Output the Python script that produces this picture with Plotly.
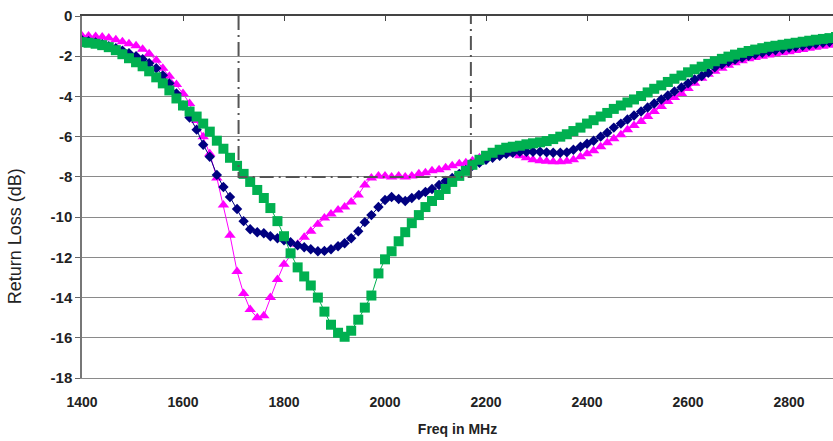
import plotly.graph_objects as go

freq_mhz = [1400, 1413, 1427, 1440, 1453, 1467, 1480, 1493, 1507, 1520,
            1533, 1547, 1560, 1573, 1587, 1600, 1613, 1627, 1640, 1653,
            1667, 1680, 1693, 1707, 1720, 1733, 1747, 1760, 1773, 1787,
            1800, 1813, 1827, 1840, 1853, 1867, 1880, 1893, 1907, 1920,
            1933, 1947, 1960, 1973, 1987, 2000, 2013, 2027, 2040, 2053,
            2067, 2080, 2093, 2107, 2120, 2133, 2147, 2160, 2173, 2187,
            2200, 2213, 2227, 2240, 2253, 2267, 2280, 2293, 2307, 2320,
            2333, 2347, 2360, 2373, 2387, 2400, 2413, 2427, 2440, 2453,
            2467, 2480, 2493, 2507, 2520, 2533, 2547, 2560, 2573, 2587,
            2600, 2613, 2627, 2640, 2653, 2667, 2680, 2693, 2707, 2720,
            2733, 2747, 2760, 2773, 2787, 2800, 2813, 2827, 2840, 2853,
            2867, 2880, 2893]

magenta_db = [-1.0, -1.0, -1.02, -1.05, -1.1, -1.18, -1.28, -1.38, -1.48, -1.65,
              -1.88, -2.2, -2.6, -3.0, -3.4, -3.85, -4.35, -5.2, -6.0, -6.85,
              -8.05, -9.4, -10.9, -12.7, -13.8, -14.6, -15.0, -14.9, -14.0, -13.1,
              -12.35, -11.9, -11.35, -11.0, -10.7, -10.35, -10.05, -9.85, -9.65, -9.5,
              -9.25, -8.9, -8.4, -8.05, -7.95, -7.95, -8.0, -7.95, -8.0, -7.95,
              -7.85, -7.8, -7.7, -7.65, -7.55, -7.45, -7.35, -7.3, -7.2, -7.05,
              -6.95, -6.9, -6.85, -6.85, -6.85, -6.95, -7.05, -7.15, -7.2, -7.22,
              -7.25, -7.25, -7.22, -7.15, -7.0, -6.85, -6.7, -6.5, -6.3, -6.1,
              -5.9, -5.65, -5.45, -5.25, -5.0, -4.75, -4.5, -4.25, -4.05, -3.85,
              -3.6, -3.35, -3.1, -2.9, -2.75, -2.6, -2.45, -2.33, -2.22, -2.13,
              -2.06, -2.0, -1.94, -1.88, -1.83, -1.78, -1.72, -1.67, -1.6, -1.55,
              -1.5, -1.45, -1.4]

navy_db = [-1.2, -1.25, -1.32, -1.4, -1.5, -1.6, -1.72, -1.85, -2.0, -2.15,
           -2.35, -2.6, -2.95, -3.35, -3.85, -4.45, -5.05, -5.65, -6.4, -7.0,
           -7.9, -8.5, -9.0, -9.6, -10.2, -10.6, -10.75, -10.8, -10.95, -11.05,
           -11.15, -11.25, -11.4, -11.5, -11.6, -11.7, -11.68, -11.6, -11.45, -11.3,
           -11.05, -10.7, -10.25, -9.9, -9.5, -9.15, -9.0, -9.1, -9.2, -9.05,
           -8.9, -8.75, -8.6, -8.4, -8.2, -8.05, -7.85, -7.65, -7.45, -7.3,
           -7.15, -7.05, -6.95, -6.85, -6.8, -6.75, -6.75, -6.75, -6.75, -6.78,
           -6.8, -6.8, -6.78, -6.65, -6.5, -6.35, -6.2, -6.0, -5.8, -5.55,
           -5.35, -5.15, -4.95, -4.75, -4.55, -4.35, -4.15, -3.95, -3.75, -3.55,
           -3.35, -3.15, -2.98, -2.82, -2.55, -2.4, -2.28, -2.17, -2.07, -1.98,
           -1.9, -1.83, -1.76, -1.7, -1.64, -1.58, -1.53, -1.48, -1.43, -1.38,
           -1.33, -1.29, -1.25]

green_db = [-1.3, -1.33, -1.38, -1.45, -1.55, -1.7, -1.9, -2.1, -2.3, -2.5,
            -2.75, -3.05, -3.35, -3.7, -4.1, -4.45, -4.75, -5.0, -5.35, -5.75,
            -6.2, -6.6, -7.05, -7.45, -7.85, -8.25, -8.65, -9.05, -9.55, -10.2,
            -10.95, -11.8, -12.5, -12.95, -13.4, -14.0, -14.7, -15.35, -15.75, -15.95,
            -15.65, -15.1, -14.5, -13.9, -12.8, -12.1, -11.7, -11.2, -10.75, -10.3,
            -9.9, -9.5, -9.2, -8.9, -8.6, -8.25, -7.95, -7.7, -7.4, -7.15,
            -6.95, -6.8, -6.65, -6.55, -6.5, -6.45, -6.38, -6.33, -6.28, -6.22,
            -6.12, -6.0, -5.88, -5.72, -5.55, -5.35, -5.18, -5.0, -4.82, -4.62,
            -4.45, -4.3, -4.15, -3.98, -3.8, -3.62, -3.45, -3.28, -3.12, -2.96,
            -2.8, -2.65, -2.52, -2.38, -2.25, -2.13, -2.02, -1.92, -1.83, -1.74,
            -1.67, -1.6, -1.53, -1.48, -1.43, -1.38, -1.33, -1.28, -1.23, -1.18,
            -1.14, -1.1, -1.05]

# band mask (dash-dot)
mask_freq = [1710, 1710, 2170, 2170]
mask_db = [0, -8, -8, 0]

x_ticks = [1400, 1600, 1800, 2000, 2200, 2400, 2600, 2800]
y_ticks = [0, -2, -4, -6, -8, -10, -12, -14, -16, -18]

x_range = [1400, 2887]
y_range = [-18, 0]

FONT = "Liberation Sans, Arial, sans-serif"

fig = go.Figure()

fig.add_trace(go.Scatter(
    x=mask_freq, y=mask_db, mode="lines", xaxis="x2",
    line=dict(color="#555555", width=2, dash="14px,5px,2px,5px"),
    hoverinfo="skip", showlegend=False))

fig.add_trace(go.Scatter(
    x=freq_mhz, y=magenta_db, mode="lines+markers",
    line=dict(color="#FF00FF", width=1),
    marker=dict(symbol="triangle-up", size=10, color="#FF00FF"),
    showlegend=False))

fig.add_trace(go.Scatter(
    x=freq_mhz, y=navy_db, mode="lines+markers",
    line=dict(color="#000080", width=1),
    marker=dict(symbol="diamond", size=8, color="#000080"),
    showlegend=False))

fig.add_trace(go.Scatter(
    x=freq_mhz, y=green_db, mode="lines+markers",
    line=dict(color="#00B050", width=1),
    marker=dict(symbol="square", size=10, color="#00B050"),
    showlegend=False))

fig.update_layout(
    width=833, height=441,
    margin=dict(l=82, r=0, t=16, b=63),
    paper_bgcolor="white", plot_bgcolor="white",
    xaxis=dict(
        range=x_range, tickvals=x_ticks, ticktext=[f"<b>{v}</b>" for v in x_ticks],
        ticks="outside", ticklen=11, tickcolor="rgba(0,0,0,0)",
        showgrid=False, zeroline=False,
        showline=True, linecolor="#8a8a8a", linewidth=1,
        tickfont=dict(family=FONT, size=14, color="#222222"),
        title=dict(text="<b>Freq in MHz</b>", font=dict(family=FONT, size=14, color="#222222"), standoff=15),
    ),
    xaxis2=dict(
        range=x_range, overlaying="x", side="top", anchor="y",
        tickvals=x_ticks, showticklabels=False,
        ticks="inside", ticklen=5, tickcolor="#444444", tickwidth=1,
        showgrid=False, zeroline=False,
        showline=True, linecolor="#444444", linewidth=1.5,
    ),
    yaxis=dict(
        range=y_range, tickvals=y_ticks, ticktext=[f"<b>{v}</b>" for v in y_ticks],
        ticks="outside", ticklen=5, tickcolor="#666666",
        showgrid=True, gridcolor="#8a8a8a", gridwidth=1,
        zeroline=False,
        showline=True, linecolor="#777777", linewidth=1.5,
        tickfont=dict(family=FONT, size=15, color="#222222"),
    ),
    annotations=[dict(
        text="Return Loss (dB)", textangle=-90, showarrow=False,
        xref="paper", yref="paper", x=-0.089, y=0.392,
        xanchor="center", yanchor="middle",
        font=dict(family=FONT, size=18, color="#222222"),
    )],
)

fig.write_html("out.html")
